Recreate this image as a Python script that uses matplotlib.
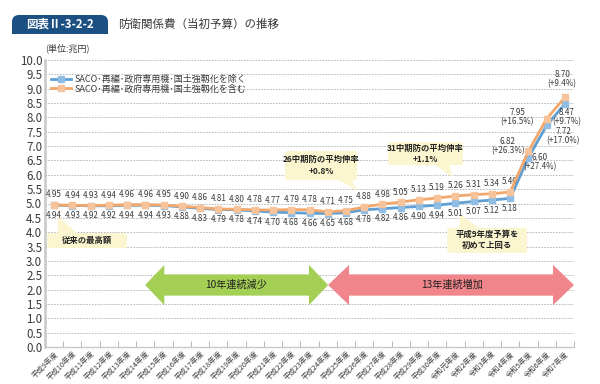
import matplotlib
matplotlib.use('Agg')
import matplotlib.pyplot as plt
from matplotlib.patches import FancyBboxPatch, Polygon, Rectangle
import numpy as np

plt.rcParams['font.family'] = ['Noto Sans CJK JP', 'DejaVu Sans']

# data
years = ['平成9年度', '平成10年度', '平成11年度', '平成12年度', '平成13年度', '平成14年度',
         '平成15年度', '平成16年度', '平成17年度', '平成18年度', '平成19年度', '平成20年度',
         '平成21年度', '平成22年度', '平成23年度', '平成24年度', '平成25年度', '平成26年度',
         '平成27年度', '平成28年度', '平成29年度', '平成30年度', '令和元年度', '令和2年度',
         '令和3年度', '令和4年度', '令和5年度', '令和6年度', '令和7年度']
incl = [4.95, 4.94, 4.93, 4.94, 4.96, 4.96, 4.95, 4.90, 4.86, 4.81, 4.80, 4.78, 4.77, 4.79,
        4.78, 4.71, 4.75, 4.88, 4.98, 5.05, 5.13, 5.19, 5.26, 5.31, 5.34, 5.40, 6.82, 7.95, 8.70]
excl = [4.94, 4.93, 4.92, 4.92, 4.94, 4.94, 4.93, 4.88, 4.83, 4.79, 4.78, 4.74, 4.70, 4.68,
        4.66, 4.65, 4.68, 4.78, 4.82, 4.86, 4.90, 4.94, 5.01, 5.07, 5.12, 5.18, 6.60, 7.72, 8.47]
incl_growth = ['(+26.3%)', '(+16.5%)', '(+9.4%)']
excl_growth = ['(+27.4%)', '(+17.0%)', '(+9.7%)']
label_excl = 'SACO･再編･政府専用機･国土強靱化を除く'
label_incl = 'SACO･再編･政府専用機･国土強靱化を含む'

BLUE = '#5f9fd3'
ORANGE = '#f2a86c'
TXT = '#3a3a3a'

fig = plt.figure(figsize=(6, 3.84), dpi=100)
ax = fig.add_axes([45/600, 1-347/384, 529/600, 287/384])
x = np.arange(len(years))

ax.plot(x, excl, color=BLUE, lw=2.0, marker='s', ms=4.5, mec='#8fbde3', mfc='#8fbde3',
        label=label_excl, zorder=3)
ax.plot(x, incl, color=ORANGE, lw=2.0, marker='s', ms=4.5, mec='#f7c39a', mfc='#f7c39a',
        label=label_incl, zorder=4)

n = len(years)
for i in range(n - 3):
    ax.annotate(f'{incl[i]:.2f}', (x[i], incl[i]), xytext=(0, 4), textcoords='offset points',
                ha='center', va='bottom', fontsize=5.8, color=TXT)
    ax.annotate(f'{excl[i]:.2f}', (x[i], excl[i]), xytext=(0, -4), textcoords='offset points',
                ha='center', va='top', fontsize=5.8, color=TXT)

# last three years, labels with growth rate
inc_off = [(-15, 4), (-21, 1), (-2, 13)]
exc_off = [(8, -3), (12, -7.5), (1, -9.5)]
for k in range(3):
    i = n - 3 + k
    dx, dy = inc_off[k]
    ax.annotate(f'{incl[i]:.2f}\n{incl_growth[k]}', (x[i], incl[i]), xytext=(dx, dy),
                textcoords='offset points', ha='center', va='center',
                fontsize=5.8, color=TXT, linespacing=1.0)
    dx, dy = exc_off[k]
    ax.annotate(f'{excl[i]:.2f}\n{excl_growth[k]}', (x[i], excl[i]), xytext=(dx, dy),
                textcoords='offset points', ha='center', va='center',
                fontsize=5.8, color=TXT, linespacing=1.0)

ax.set_xlim(-0.5, n - 0.5)
ax.set_ylim(0, 10)
ax.set_yticks(np.arange(0, 10.01, 0.5))
ax.set_yticklabels([f'{v:.1f}' for v in np.arange(0, 10.01, 0.5)], fontsize=8.3, color=TXT)
ax.set_xticks(x)
ax.set_xticklabels(years, rotation=45, ha='right', rotation_mode='anchor',
                   fontsize=5.3, color=TXT)
ax.set_xticks(np.arange(-0.5, n, 1), minor=True)
ax.tick_params(axis='x', which='major', length=0, pad=2)
ax.tick_params(axis='x', which='minor', length=4, direction='in', color='#aaaaaa')
ax.tick_params(axis='y', length=0, pad=2)
ax.grid(axis='y', ls=(0, (2, 1.5)), color='#b0b0b0', lw=0.6)
ax.set_axisbelow(True)
for s in ['top', 'right']:
    ax.spines[s].set_visible(False)
ax.spines['left'].set_color('#c8c8c8')
ax.spines['left'].set_linewidth(1.8)
ax.spines['bottom'].set_color('#c8c8c8')
ax.spines['bottom'].set_linewidth(1.0)

ax.legend(loc='upper left', bbox_to_anchor=(0.005, 0.96), frameon=False, fontsize=6.5,
          handlelength=2.2, labelspacing=0.0, borderaxespad=0, handletextpad=0.4,
          labelcolor=TXT)

# callouts
YEL = '#fbf6cf'


def callout(x0, y0, x1, y1, tip, base, text, fs=6):
    box = FancyBboxPatch((x0, y0), x1 - x0, y1 - y0, boxstyle='round,pad=0,rounding_size=0.15',
                         fc=YEL, ec='none', zorder=2, mutation_aspect=0.6)
    ax.add_patch(box)
    ax.add_patch(Polygon([base[0], base[1], tip], closed=True, fc=YEL, ec='none', zorder=2))
    ax.text((x0 + x1) / 2, (y0 + y1) / 2, text, ha='center', va='center', fontsize=fs,
            color='#222222', linespacing=1.3, zorder=5, fontweight='bold')


callout(-0.38, 3.45, 4.0, 3.97, (0.2, 4.55), [(0.2, 3.9), (1.4, 3.9)], '従来の最高額')
callout(12.66, 5.82, 16.6, 6.83, (16.6, 5.45), [(15.4, 5.9), (16.3, 5.9)],
        '26中期防の平均伸率\n+0.8%')
callout(18.31, 6.34, 22.42, 7.14, (21.8, 5.92), [(20.8, 6.4), (21.7, 6.4)],
        '31中期防の平均伸率\n+1.1%')
callout(21.55, 3.28, 25.93, 4.15, (22.26, 4.62), [(22.2, 4.1), (23.4, 4.1)],
        '平成9年度予算を\n初めて上回る')

# arrows
yc, bh, hh = 2.16, 0.37, 0.70
gx0, gx1, hl = 4.99, 15.02, 1.05
ax.add_patch(Polygon([(gx0, yc), (gx0 + hl, yc + hh), (gx0 + hl, yc + bh), (gx1 - hl, yc + bh),
                      (gx1 - hl, yc + hh), (gx1, yc), (gx1 - hl, yc - hh), (gx1 - hl, yc - bh),
                      (gx0 + hl, yc - bh), (gx0 + hl, yc - hh)],
                     closed=True, fc='#a3cf55', ec='none', zorder=2))
rx0, rx1, rl = 15.02, 28.5, 1.15
ax.add_patch(Polygon([(rx0, yc), (rx0 + rl, yc + hh), (rx0 + rl, yc + bh), (rx1 - rl, yc + bh),
                      (rx1 - rl, yc + hh), (rx1, yc), (rx1 - rl, yc - hh), (rx1 - rl, yc - bh),
                      (rx0 + rl, yc - bh), (rx0 + rl, yc - hh)],
                     closed=True, fc='#f0868b', ec='none', zorder=2))
ax.text(10.0, yc, '10年連続減少', ha='center', va='center', fontsize=7.3, color='#222222', zorder=5)
ax.text(21.8, yc, '13年連続増加', ha='center', va='center', fontsize=7.3, color='#222222', zorder=5)

# title tab
tab = FancyBboxPatch((12/600, 1-34/384), 96/600, 19/384,
                     boxstyle='round,pad=0,rounding_size=0.012', transform=fig.transFigure,
                     fc='#1d5082', ec='none', mutation_aspect=1.5)
fig.patches.append(tab)
fig.patches.append(Rectangle((12/600, 1-34/384), 96/600, 9/384, transform=fig.transFigure,
                             fc='#1d5082', ec='none'))
fig.text(60/600, 1-24.5/384, '図表Ⅱ-3-2-2', ha='center', va='center', fontsize=8.3,
         color='white', fontweight='bold')
fig.text(118/600, 1-24.5/384, '防衛関係費（当初予算）の推移', ha='left', va='center',
         fontsize=8.3, color=TXT)
fig.text(45/600, 1-48/384, '(単位:兆円)', ha='left', va='center', fontsize=6.5, color=TXT)

fig.savefig('out.png', dpi=100)
